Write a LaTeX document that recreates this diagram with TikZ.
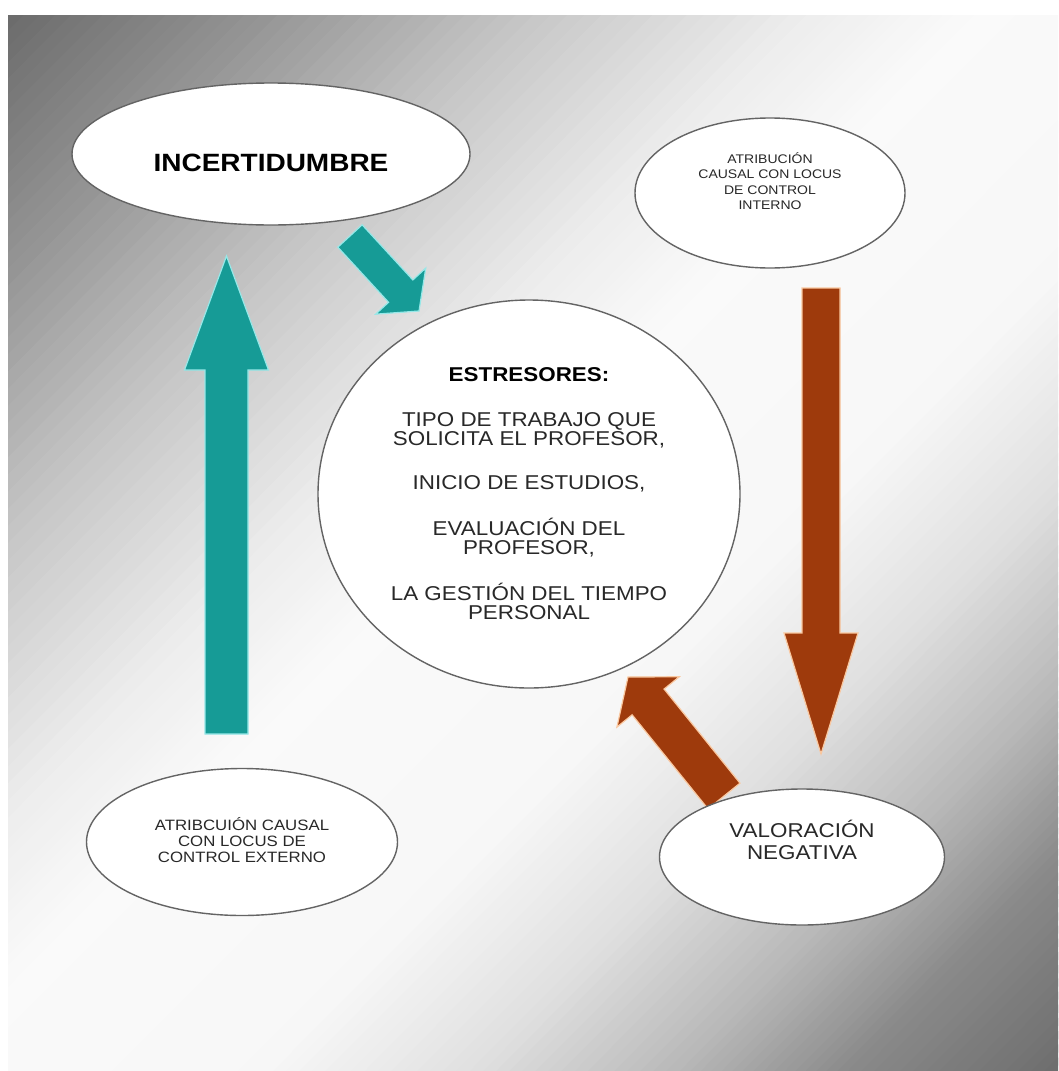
\documentclass[tikz,border=0pt]{standalone}
\usepackage{fontspec}
\setmainfont{Liberation Sans}[FakeStretch=1.12]
\usetikzlibrary{shapes.geometric,calc}

\definecolor{tealfill}{RGB}{22,155,150}
\definecolor{tealglow}{RGB}{150,232,232}
\definecolor{rustfill}{RGB}{158,58,12}
\definecolor{rustglow}{RGB}{250,200,160}
\definecolor{rimgray}{RGB}{100,100,100}
\definecolor{inkgray}{RGB}{40,40,40}

% block arrow: #1 style, #2 tail coordinate, #3 tip coordinate,
% #4 half shaft width, #5 half head width, #6 head length
\newcommand\blockarr[6]{%
  \coordinate (#2-base) at ($(#3)!#6!(#2)$);
  \filldraw[#1]
    ($(#2)!#4!90:(#3)$) -- ($(#2-base)!#4!90:(#3)$) -- ($(#2-base)!#5!90:(#3)$)
    -- (#3) -- ($(#2-base)!#5!-90:(#3)$) -- ($(#2-base)!#4!-90:(#3)$)
    -- ($(#2)!#4!-90:(#3)$) -- cycle;
}

\tikzset{
  bubble/.style={ellipse, draw=rimgray, line width=1.4pt, fill=white, inner sep=0pt},
  caption/.style={align=center, text=inkgray, inner sep=0pt},
  tealarrow/.style={fill=tealfill, draw=tealglow, line width=1.2pt, line join=miter},
  rustarrow/.style={fill=rustfill, draw=rustglow, line width=1.2pt, line join=miter},
}

\begin{document}
\begin{tikzpicture}[x=1pt, y=-1pt]
  % page and panel
  \fill[white] (0,0) rectangle (1058,1071);
  \useasboundingbox (0,0) rectangle (1058,1071);

  % diagonal grey-white-grey panel shading, built from thin strips
  \def\xo{8}\def\yo{15}\def\W{1050}\def\H{1056}
  \begin{scope}
    \clip (\xo,\yo) rectangle (1058,1071);
    \foreach \ta/\la/\tb/\lb in {0/42/0.12/58, 0.12/58/0.25/78, 0.25/78/0.38/93,
        0.38/93/0.46/98, 0.46/98/0.62/97, 0.62/97/0.72/88, 0.72/88/0.82/72,
        0.82/72/0.9/54, 0.9/54/1/43}{
      \foreach \k in {0,...,15}{
        \pgfmathsetmacro\tone{\ta+(\tb-\ta)*\k/16}
        \pgfmathsetmacro\ttwo{\ta+(\tb-\ta)*(\k+1.6)/16}
        \pgfmathsetmacro\lev{(\la+(\lb-\la)*(\k+0.5)/16)/100}
        \definecolor{bgstrip}{gray}{\lev}
        \fill[bgstrip] (\xo+2*\tone*\W,\yo) -- (\xo+2*\ttwo*\W,\yo)
          -- (\xo,\yo+2*\ttwo*\H) -- (\xo,\yo+2*\tone*\H) -- cycle;
      }
    }
  \end{scope}

  % arrow end points
  \coordinate (upTail) at (226.5,734);
  \coordinate (upTip) at (226.5,256);
  \coordinate (dnTail) at (821,288);
  \coordinate (dnTip) at (821,754);
  \coordinate (dgTail) at (350,236);
  \coordinate (dgTip) at (419,311);
  \coordinate (bkTail) at (724,796);
  \coordinate (bkTip) at (628,677);

  \blockarr{tealarrow}{upTail}{upTip}{21.5pt}{42pt}{114pt}
  \blockarr{rustarrow}{dnTail}{dnTip}{19pt}{37pt}{121pt}
  \blockarr{tealarrow}{dgTail}{dgTip}{16.5pt}{34pt}{27pt}
  \blockarr{rustarrow}{bkTail}{bkTip}{20.5pt}{40pt}{32pt}

  % ellipses
  \node[bubble, minimum width=398pt, minimum height=142pt] (incert) at (271,154) {};
  \node[bubble, minimum width=270pt, minimum height=150pt] (intern) at (770,193) {};
  \node[bubble, minimum width=311pt, minimum height=147pt] (extern) at (242,842) {};
  \node[bubble, minimum width=285pt, minimum height=136pt] (valor) at (802,857) {};
  \node[bubble, minimum width=422pt, minimum height=388pt,
        align=center, text=inkgray, font=\fontsize{20}{19}\selectfont] (estres) at (529,494)
    {{\bfseries\color{black}ESTRESORES:}\\[26pt]
     TIPO DE TRABAJO QUE\\SOLICITA EL PROFESOR,\\[25pt]
     INICIO DE ESTUDIOS,\\[25pt]
     EVALUACIÓN DEL\\PROFESOR,\\[25pt]
     LA GESTIÓN DEL TIEMPO\\PERSONAL};

  % ellipse texts
  \node[caption, text=black, font=\bfseries\fontsize{25}{28}\selectfont] (incertT) at (271,163)
    {INCERTIDUMBRE};
  \node[caption, font=\fontsize{12.5}{15.5}\selectfont] (internT) at (770,181)
    {ATRIBUCIÓN\\CAUSAL CON LOCUS\\DE CONTROL\\INTERNO};
  \node[caption, font=\fontsize{15}{16}\selectfont] (externT) at (242,840)
    {ATRIBCUIÓN CAUSAL\\CON LOCUS DE\\CONTROL EXTERNO};
  \node[caption, font=\fontsize{20}{22}\selectfont] (valorT) at (802,840)
    {VALORACIÓN\\NEGATIVA};
\end{tikzpicture}
\end{document}
